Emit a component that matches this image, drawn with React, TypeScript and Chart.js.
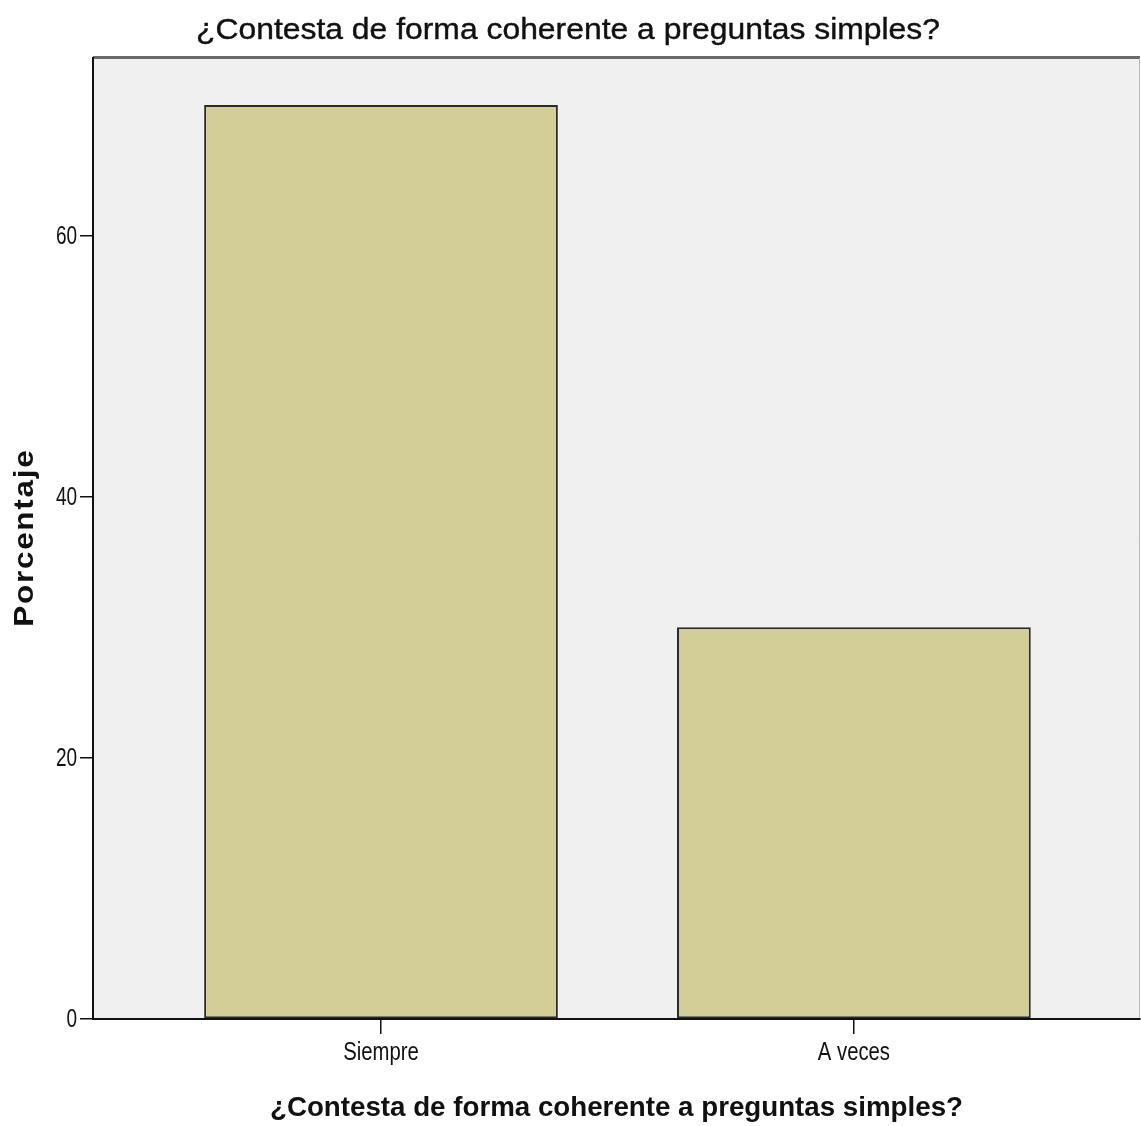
import React, { useEffect, useRef } from "react";
import { Chart, registerables } from "chart.js";

Chart.register(...registerables);

const categories = ["Siempre", "A veces"];
const percentages = [70, 30];
const yTicks = [0, 20, 40, 60];
const yMax = 73.6;
const chartTitle = "¿Contesta de forma coherente a preguntas simples?";
const xAxisTitle = "¿Contesta de forma coherente a preguntas simples?";
const yAxisTitle = "Porcentaje";

function drawText(
  ctx: CanvasRenderingContext2D,
  text: string,
  x: number,
  y: number,
  font: string,
  align: CanvasTextAlign,
  baseline: CanvasTextBaseline,
  opts: { width?: number; sx?: number; rotate?: number; spacing?: number; stroke?: number }
) {
  ctx.save();
  ctx.font = font;
  ctx.fillStyle = "#111";
  ctx.strokeStyle = "#111";
  ctx.textAlign = align;
  ctx.textBaseline = baseline;
  (ctx as any).letterSpacing = `${opts.spacing ?? 0}px`;
  ctx.translate(x, y);
  if (opts.rotate) ctx.rotate(opts.rotate);
  let sx = opts.sx ?? 1;
  if (opts.width) sx = opts.width / ctx.measureText(text).width;
  ctx.scale(sx, 1);
  const shift = align === "center" ? (opts.spacing ?? 0) / 2 : 0;
  ctx.fillText(text, shift, 0);
  if (opts.stroke) {
    ctx.lineWidth = opts.stroke;
    ctx.strokeText(text, shift, 0);
  }
  ctx.restore();
}

const decorPlugin = {
  id: "decor",
  beforeDraw(chart: any) {
    const { ctx, chartArea: a } = chart;
    ctx.save();
    ctx.fillStyle = "#ffffff";
    ctx.fillRect(0, 0, chart.width, chart.height);
    ctx.fillStyle = "#f0f0f0";
    ctx.fillRect(a.left, a.top, a.right - a.left, a.bottom - a.top);
    ctx.strokeStyle = "#6a6a6a";
    ctx.lineWidth = 3;
    ctx.beginPath();
    ctx.moveTo(a.left, a.top - 0.5);
    ctx.lineTo(a.right, a.top - 0.5);
    ctx.stroke();
    ctx.strokeStyle = "#b8b8b8";
    ctx.lineWidth = 1;
    ctx.beginPath();
    ctx.moveTo(a.right - 0.5, a.top);
    ctx.lineTo(a.right - 0.5, a.bottom);
    ctx.stroke();
    ctx.restore();
  },
  afterDraw(chart: any) {
    const { ctx, chartArea: a } = chart;
    const xs = chart.scales.x;
    const ys = chart.scales.y;
    drawText(ctx, chartTitle, 568, 39, "29px Arial, 'Liberation Sans', sans-serif", "center", "alphabetic", { width: 744, stroke: 0.4 });
    drawText(ctx, xAxisTitle, (a.left + a.right) / 2, 1116, "bold 28px Arial, 'Liberation Sans', sans-serif", "center", "alphabetic", { width: 693 });
    drawText(ctx, yAxisTitle, 33, (a.top + a.bottom) / 2, "bold 27px Arial, 'Liberation Sans', sans-serif", "center", "alphabetic", { width: 178, spacing: 1.5, rotate: -Math.PI / 2 });
    categories.forEach((c, i) => {
      drawText(ctx, c, xs.getPixelForValue(i), 1060, "26px Arial, 'Liberation Sans', sans-serif", "center", "alphabetic", { sx: 0.78 });
    });
    yTicks.forEach((v) => {
      drawText(ctx, String(v), 77, ys.getPixelForValue(v) + 1, "26px Arial, 'Liberation Sans', sans-serif", "right", "middle", { sx: 0.73 });
    });
  },
};

export default function App() {
  const ref = useRef<HTMLCanvasElement | null>(null);
  useEffect(() => {
    document.body.style.margin = "0";
    if (!ref.current) return;
    const chart = new Chart(ref.current, {
      type: "bar",
      data: {
        datasets: [
          {
            label: "Porcentaje",
            data: categories.map((_, i) => ({ x: i, y: percentages[i] })),
            backgroundColor: "#d3ce98",
            borderColor: "#2a2a2a",
            borderWidth: 2,
            borderSkipped: false,
            barPercentage: 0.748,
            categoryPercentage: 1,
          },
        ],
      },
      options: {
        animation: false,
        responsive: false,
        maintainAspectRatio: false,
        layout: { padding: { top: 58, right: 1, left: 0, bottom: 0 } },
        plugins: {
          legend: { display: false },
          title: { display: false },
          tooltip: { enabled: false },
        },
        scales: {
          x: {
            type: "linear",
            offset: false,
            min: -0.609,
            max: 1.605,
            afterBuildTicks: (s: any) => {
              s.ticks = categories.map((_, i) => ({ value: i }));
            },
            afterFit: (s: any) => {
              s.height = 107;
            },
            ticks: { display: false },
            grid: {
              display: true,
              offset: false,
              drawOnChartArea: false,
              drawTicks: true,
              tickLength: 15,
              color: "#111",
              lineWidth: 1.5,
            },
            border: { display: true, color: "#111", width: 2 },
          },
          y: {
            type: "linear",
            min: 0,
            max: yMax,
            afterBuildTicks: (s: any) => {
              s.ticks = yTicks.map((v) => ({ value: v }));
            },
            afterFit: (s: any) => {
              s.width = 93;
            },
            ticks: { display: false },
            grid: {
              display: true,
              drawOnChartArea: false,
              drawTicks: true,
              tickLength: 13,
              color: "#111",
              lineWidth: 1.5,
            },
            border: { display: true, color: "#111", width: 2 },
          },
        },
      },
      plugins: [decorPlugin],
    } as any);
    return () => chart.destroy();
  }, []);
  return <canvas ref={ref} width={1141} height={1126} style={{ display: "block" }} />;
}
